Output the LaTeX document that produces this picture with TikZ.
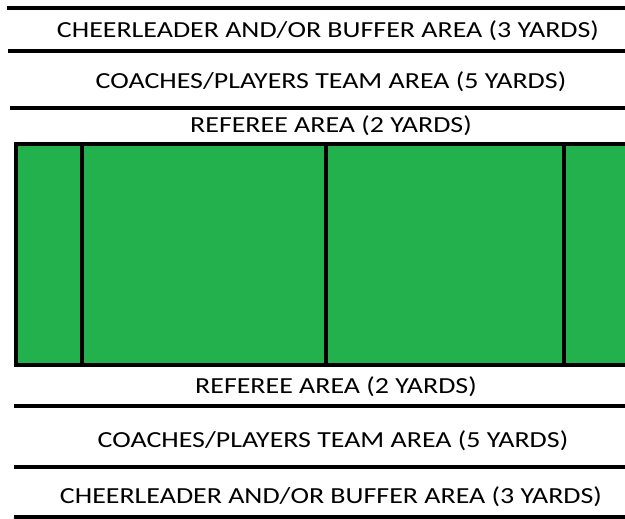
\documentclass[tikz,border=0pt]{standalone}
\usepackage{fontspec}
\setmainfont{Carlito}
\definecolor{fieldgreen}{HTML}{22B14C}
\newcommand{\wide}[1]{\scalebox{1.215}[1]{#1}}
\begin{document}
\begin{tikzpicture}[x=1pt,y=-1pt,
  rule/.style={line width=4pt, black},
  lbl/.style={anchor=base, font=\fontsize{23}{27}\selectfont, inner sep=0pt}]
\useasboundingbox (0,0) rectangle (625,519);
% top lines
\draw[rule] (7,8) -- (625,8);
\draw[rule] (8,51) -- (625,51);
\draw[rule] (10,108) -- (625,108);
% field
\fill[fieldgreen] (16,144) rectangle (625,365);
\draw[rule] (625,144) -- (16,144) -- (16,365) -- (625,365);
\draw[rule] (81.5,144) -- (81.5,365);
\draw[rule] (326,144) -- (326,365);
\draw[rule] (564,144) -- (564,365);
% bottom lines
\draw[rule] (14,406) -- (625,406);
\draw[rule] (14,467) -- (625,467);
\draw[rule] (14,517) -- (625,517);
% labels
\node[lbl] (t1) at (328,38) {\wide{CHEERLEADER AND/OR BUFFER AREA (3 YARDS)}};
\node[lbl] (t2) at (331,89) {\wide{COACHES/PLAYERS TEAM AREA (5 YARDS)}};
\node[lbl] (t3) at (331,132) {\wide{REFEREE AREA (2 YARDS)}};
\node[lbl] (b3) at (336,393) {\wide{REFEREE AREA (2 YARDS)}};
\node[lbl] (b2) at (333,447) {\wide{COACHES/PLAYERS TEAM AREA (5 YARDS)}};
\node[lbl] (b1) at (331,503) {\wide{CHEERLEADER AND/OR BUFFER AREA (3 YARDS)}};
\end{tikzpicture}
\end{document}
